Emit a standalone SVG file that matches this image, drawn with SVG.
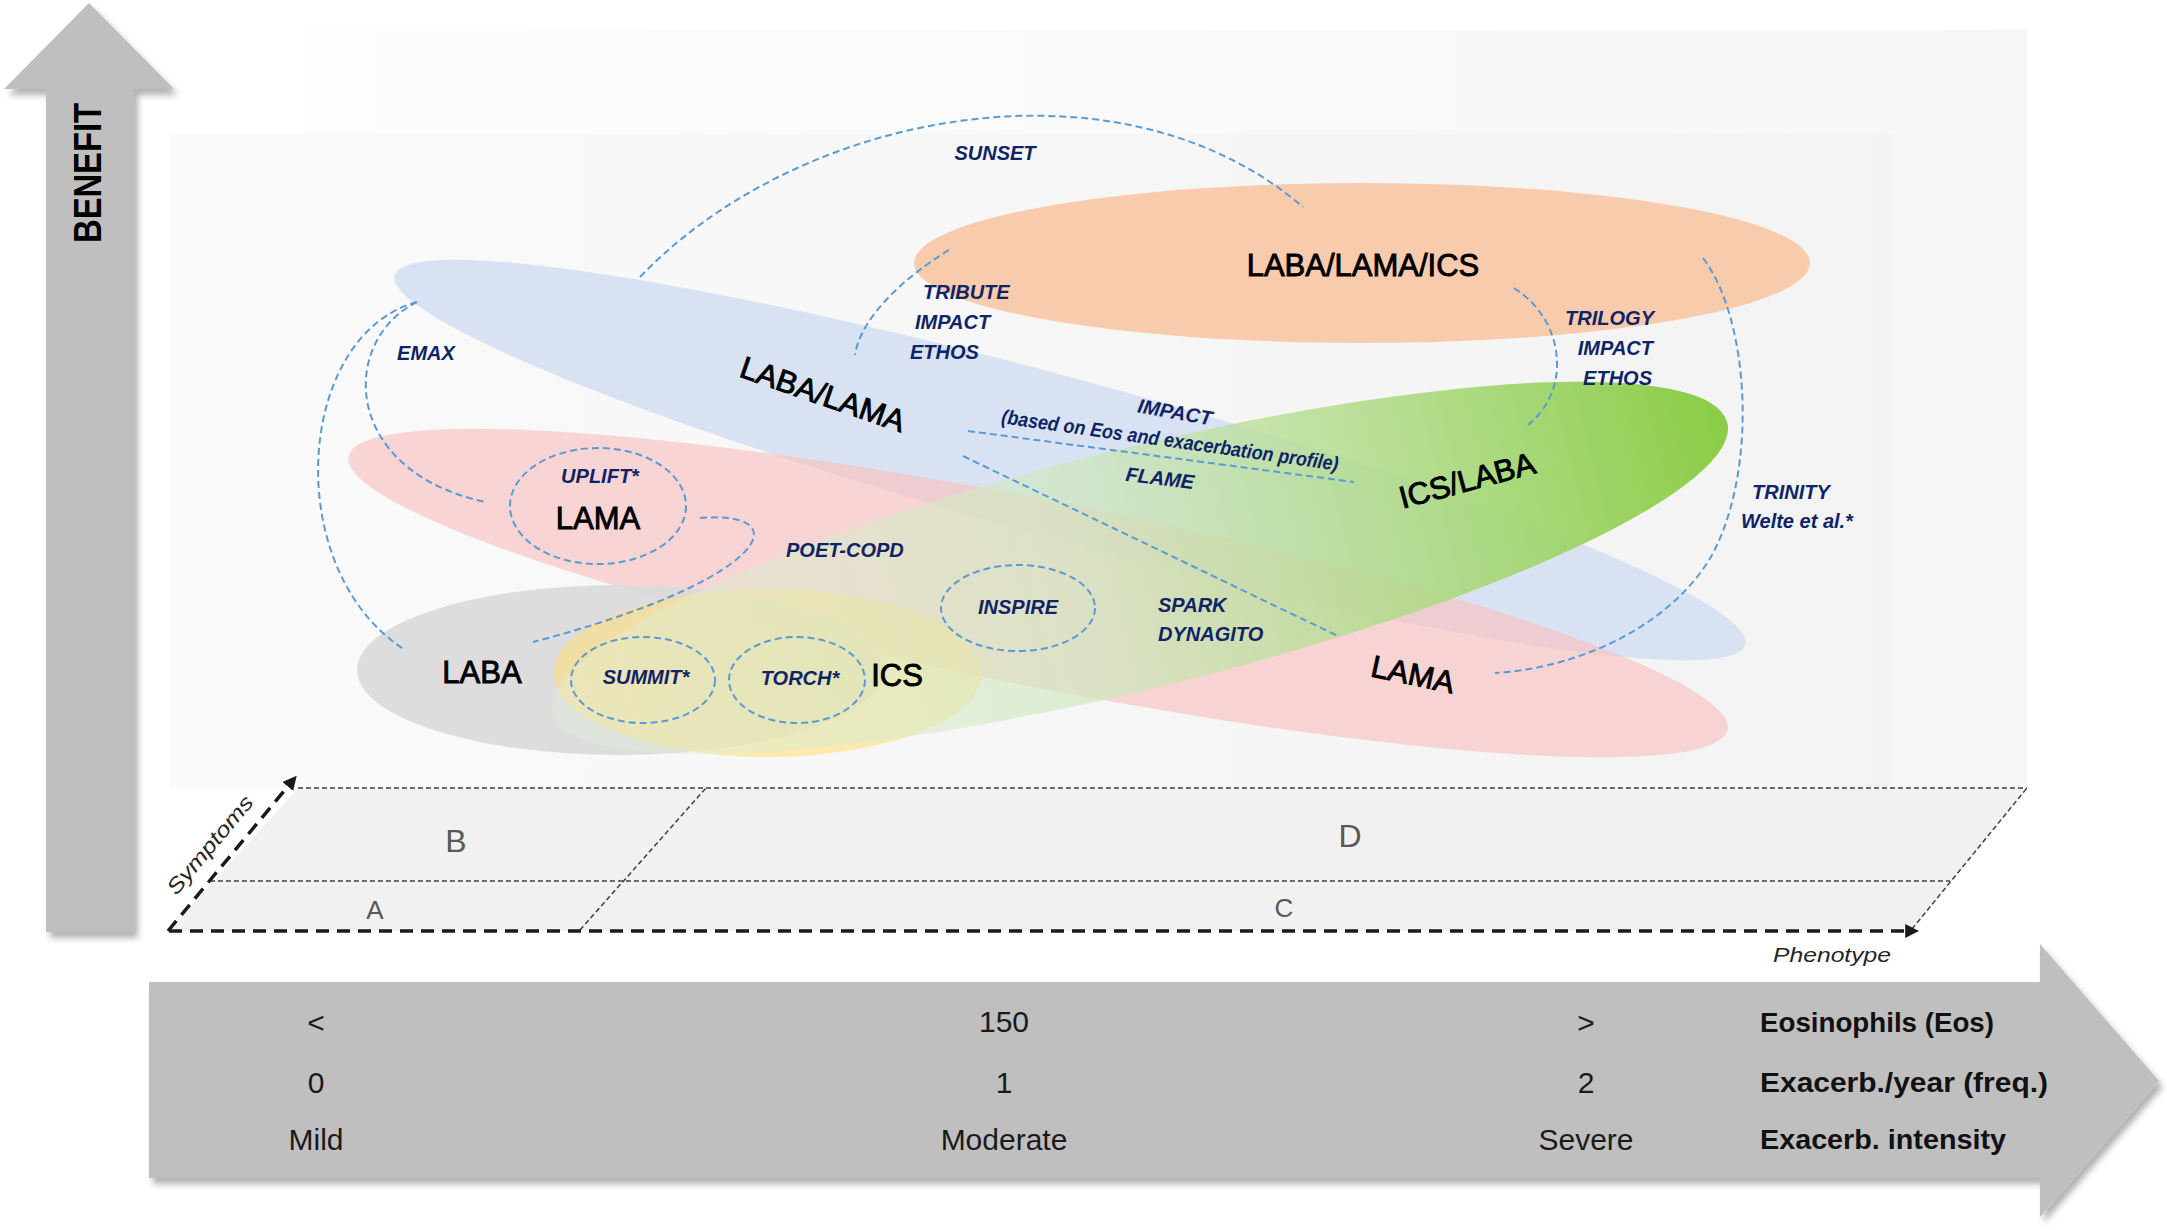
<svg xmlns="http://www.w3.org/2000/svg" width="2167" height="1230" viewBox="0 0 2167 1230">
<defs>
<filter id="sh" x="-10%" y="-10%" width="130%" height="130%"><feDropShadow dx="4" dy="6" stdDeviation="3" flood-color="#000" flood-opacity="0.3"/></filter>
<linearGradient id="gP1" x1="0" y1="0" x2="1" y2="0"><stop offset="0" stop-color="#fdfdfd"/><stop offset="1" stop-color="#f6f6f6"/></linearGradient>
<linearGradient id="gP2" x1="0" y1="0" x2="1" y2="0"><stop offset="0" stop-color="#fafafa"/><stop offset="1" stop-color="#f3f3f3"/></linearGradient>
<linearGradient id="gGreen" gradientUnits="userSpaceOnUse" x1="560" y1="0" x2="1730" y2="0">
<stop offset="0" stop-color="#e2efd9" stop-opacity="0.4"/>
<stop offset="0.45" stop-color="#cfe7bd" stop-opacity="0.7"/>
<stop offset="1" stop-color="#8ccd48" stop-opacity="1"/>
</linearGradient>
<marker id="tri" viewBox="0 0 10 10" refX="7" refY="5" markerWidth="4" markerHeight="4" orient="auto" markerUnits="strokeWidth"><path d="M0,0 L10,5 L0,10 z" fill="#1a1a1a"/></marker>
</defs>
<style>
.dash{fill:none;stroke:#5b9bd5;stroke-width:2;stroke-dasharray:7 4}
.lbl{font-family:"Liberation Sans",Arial,sans-serif;font-weight:bold;font-style:italic;font-size:20px;fill:#0f2466}
.big{font-family:"Liberation Sans",Arial,sans-serif;font-size:31px;fill:#000;stroke:#000;stroke-width:0.9;text-anchor:middle}
.val{font-family:"Liberation Sans",Arial,sans-serif;font-size:30px;fill:#1a1a1a;text-anchor:middle}
.hdr{font-family:"Liberation Sans",Arial,sans-serif;font-size:28px;font-weight:bold;fill:#111}
.flr{font-family:"Liberation Sans",Arial,sans-serif;fill:#595959;text-anchor:middle}
.ax{font-family:"Liberation Sans",Arial,sans-serif;font-style:italic;font-size:21px;fill:#262626}
.thin{fill:none;stroke:#404040;stroke-width:1.5;stroke-dasharray:5 3}
.thick{fill:none;stroke:#1a1a1a;stroke-width:3.5;stroke-dasharray:13 8}
</style>

<!-- background panels -->
<rect x="304" y="30" width="1723" height="758" fill="url(#gP1)"/>
<rect x="170" y="134" width="1723" height="654" fill="url(#gP2)"/>

<!-- floor -->
<g id="floor">
<polygon points="298,788 2027,788 1912,931 169,931" fill="#f1f1f1"/>
<path class="thin" d="M298 788 L2027 788"/>
<path class="thin" d="M210 881 L1950 881"/>
<path class="thin" d="M1912 929 L2027 788"/>
<path class="thin" d="M580 930 L706 788"/>
<path class="thick" d="M169 931 L1915 931" marker-end="url(#tri)"/>
<path class="thick" d="M168 931 L294 779" marker-end="url(#tri)"/>
<text class="flr" x="456" y="852" font-size="32">B</text>
<text class="flr" x="1350" y="847" font-size="32">D</text>
<text class="flr" x="375" y="919" font-size="26">A</text>
<text class="flr" x="1284" y="917" font-size="26">C</text>
<text class="ax" x="0" y="0" dy="7" text-anchor="middle" textLength="122" lengthAdjust="spacingAndGlyphs" transform="translate(210,845) rotate(-50)">Symptoms</text>
<text class="ax" x="1891" y="962" text-anchor="end" textLength="118" lengthAdjust="spacingAndGlyphs">Phenotype</text>
</g>

<!-- benefit arrow -->
<g id="benefit">
<polygon points="89,3 174,89 134,89 134,932 46,932 46,89 4,89" fill="#bfbfbf" filter="url(#sh)"/>
<text x="0" y="0" transform="translate(101,173) rotate(-90)" text-anchor="middle" font-family="Liberation Sans, Arial, sans-serif" font-weight="bold" font-size="38" textLength="140" lengthAdjust="spacingAndGlyphs" fill="#000">BENEFIT</text>
</g>

<!-- bottom arrow -->
<g id="scale">
<polygon points="149,982 2040,982 2040,944 2159,1081 2040,1217 2040,1178 149,1178" fill="#bfbfbf" filter="url(#sh)"/>
<text class="val" x="316" y="1033">&lt;</text>
<text class="val" x="1004" y="1032">150</text>
<text class="val" x="1586" y="1033">&gt;</text>
<text class="val" x="316" y="1093">0</text>
<text class="val" x="1004" y="1093">1</text>
<text class="val" x="1586" y="1093">2</text>
<text class="val" x="316" y="1150">Mild</text>
<text class="val" x="1004" y="1150">Moderate</text>
<text class="val" x="1586" y="1150">Severe</text>
<text class="hdr" x="1760" y="1032" textLength="234" lengthAdjust="spacingAndGlyphs">Eosinophils (Eos)</text>
<text class="hdr" x="1760" y="1092" textLength="288" lengthAdjust="spacingAndGlyphs">Exacerb./year (freq.)</text>
<text class="hdr" x="1760" y="1149" textLength="246" lengthAdjust="spacingAndGlyphs">Exacerb. intensity</text>
</g>

<!-- ellipses -->
<g id="n-laba-lama-ics"><ellipse cx="1362" cy="263" rx="448" ry="80" fill="#f8cbad"/></g>
<g id="n-laba-lama"><ellipse cx="1070" cy="460" rx="700" ry="80" transform="rotate(15.3 1070 460)" fill="#d6e0f2" fill-opacity="0.95"/></g>
<g id="n-lama"><ellipse cx="1038" cy="593" rx="703" ry="93" transform="rotate(11.2 1038 593)" fill="#f7c2c2" fill-opacity="0.68"/></g>
<g id="n-laba"><ellipse cx="620" cy="670" rx="263" ry="85" fill="#d9d9d9" fill-opacity="0.9"/></g>
<g id="n-ics"><ellipse cx="768" cy="673" rx="214" ry="84" fill="#ffe07e" fill-opacity="0.6"/></g>
<g id="n-ics-laba"><ellipse cx="1140" cy="568" rx="605" ry="120" transform="rotate(-13.9 1140 568)" fill="url(#gGreen)"/></g>

<!-- connectors -->
<g id="connectors">
<path class="dash" d="M640 277 C800 110 1120 50 1303 207"/>
<path class="dash" d="M417 302 C295 335 280 570 405 650"/>
<path class="dash" d="M417 302 C340 340 340 470 485 502"/>
<path class="dash" d="M949 250 C900 280 860 320 855 355"/>
<path class="dash" d="M1514 288 C1565 320 1572 390 1528 425"/>
<path class="dash" d="M1703 258 C1750 320 1758 470 1712 555 C1672 625 1580 668 1495 673"/>
<path class="dash" d="M968 431 L1354 482"/>
<path class="dash" d="M963 456 L1338 636"/>
<path class="dash" d="M700 518 C800 510 770 580 533 642"/>
<ellipse class="dash" cx="598" cy="506" rx="88" ry="58"/>
<ellipse class="dash" cx="643" cy="680" rx="72" ry="43"/>
<ellipse class="dash" cx="797" cy="680" rx="68" ry="43"/>
<ellipse class="dash" cx="1018" cy="608" rx="77" ry="43"/>
</g>

<!-- node labels -->
<g id="labels-main">
<text class="big" x="1363" y="276">LABA/LAMA/ICS</text>
<text class="big" x="0" y="0" dy="11" font-size="34" transform="translate(823,394) rotate(19)">LABA/LAMA</text>
<text class="big" x="0" y="0" dy="11" font-size="33" transform="translate(1467,480) rotate(-15)">ICS/LABA</text>
<text class="big" x="0" y="0" dy="11" font-size="33" transform="translate(1413,674) rotate(12)">LAMA</text>
<text class="big" x="598" y="529">LAMA</text>
<text class="big" x="482" y="683">LABA</text>
<text class="big" x="897" y="686">ICS</text>
</g>

<g id="labels-trials">
<text class="lbl" x="995" y="160" text-anchor="middle">SUNSET</text>
<text class="lbl" x="923" y="299">TRIBUTE</text>
<text class="lbl" x="915" y="329">IMPACT</text>
<text class="lbl" x="910" y="359">ETHOS</text>
<text class="lbl" x="1654" y="325" text-anchor="end">TRILOGY</text>
<text class="lbl" x="1653" y="355" text-anchor="end">IMPACT</text>
<text class="lbl" x="1652" y="385" text-anchor="end">ETHOS</text>
<text class="lbl" x="426" y="360" text-anchor="middle">EMAX</text>
<text class="lbl" x="600" y="483" text-anchor="middle" font-size="19">UPLIFT*</text>
<text class="lbl" x="786" y="557">POET-COPD</text>
<text class="lbl" x="1018" y="614" text-anchor="middle">INSPIRE</text>
<text class="lbl" x="1158" y="612">SPARK</text>
<text class="lbl" x="1158" y="641">DYNAGITO</text>
<text class="lbl" x="646" y="684" text-anchor="middle">SUMMIT*</text>
<text class="lbl" x="800" y="685" text-anchor="middle">TORCH*</text>
<text class="lbl" x="0" y="0" dy="7" text-anchor="middle" transform="translate(1175,412) rotate(10)">IMPACT</text>
<text class="lbl" x="0" y="0" dy="6" text-anchor="middle" font-weight="normal" font-size="18" textLength="340" lengthAdjust="spacingAndGlyphs" transform="translate(1170,441) rotate(8)">(based on Eos and exacerbation profile)</text>
<text class="lbl" x="0" y="0" dy="7" text-anchor="middle" transform="translate(1160,478) rotate(7)">FLAME</text>
<text class="lbl" x="1752" y="499">TRINITY</text>
<text class="lbl" x="1741" y="528">Welte et al.*</text>
</g>
</svg>
